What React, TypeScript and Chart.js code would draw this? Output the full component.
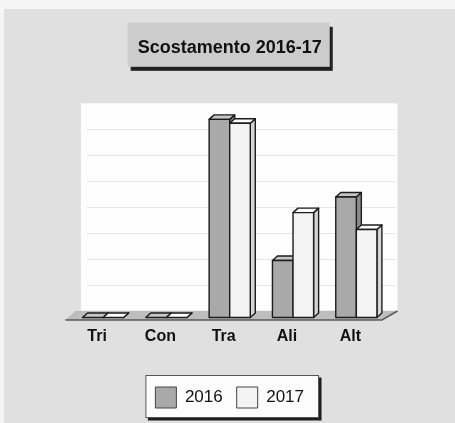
import React, { useEffect, useRef } from "react";
import { Chart, registerables } from "chart.js";

Chart.register(...registerables);

const categories = ["Tri", "Con", "Tra", "Ali", "Alt"];
const seriesLabels = ["2016", "2017"];
const values2016 = [0, 0, 7.65, 2.2, 4.65];
const values2017 = [0, 0, 7.5, 4.05, 3.4];
const yTicks = [0, 1, 2, 3, 4, 5, 6, 7, 8];
const titleText = "Scostamento 2016-17";

const FONT = "'Liberation Sans', Arial, sans-serif";
const WALL_DX = 9.5;
const WALL_DY = 7;
const BAR_DX = 5;
const BAR_DY = 4.5;

const faceColors = [
  { front: "#a9a9a9", top: "#c6c6c6", side: "#8c8c8c" },
  { front: "#f3f3f3", top: "#fbfbfb", side: "#d6d6d6" },
];

const framePlugin = {
  id: "frames",
  beforeDraw(chart: any) {
    const ctx = chart.ctx;
    ctx.save();
    ctx.fillStyle = "#f5f5f5";
    ctx.fillRect(0, 0, chart.width, chart.height);
    ctx.fillStyle = "#e0e0e0";
    ctx.fillRect(4, 9, chart.width - 4, chart.height - 9);

    // title frame
    const tb = chart.titleBlock;
    if (tb) {
      ctx.font = `bold 18px ${FONT}`;
      const w = ctx.measureText(titleText).width;
      const cx = (tb.left + tb.right) / 2;
      const cy = tb.top + 37 + 10.8;
      const l = cx - w / 2 - 10;
      const r = cx + w / 2 + 8;
      const t = cy - 25;
      const b = cy + 19;
      ctx.fillStyle = "#202020";
      ctx.fillRect(l + 3, t + 4, r - l, b - t);
      ctx.fillStyle = "#cccccc";
      ctx.fillRect(l, t, r - l, b - t);
    }

    // legend frame
    const lg = chart.legend;
    if (lg && lg.legendHitBoxes && lg.legendHitBoxes.length) {
      const hb = lg.legendHitBoxes;
      const first = hb[0];
      const last = hb[hb.length - 1];
      const l = first.left - 10;
      const r = last.left + last.width + 15;
      const t = first.top - 12;
      const b = first.top + 21 + 10;
      ctx.fillStyle = "#1e1e1e";
      ctx.fillRect(l + 2.5, t + 2.5, r - l, b - t);
      ctx.fillStyle = "#fcfcfc";
      ctx.fillRect(l, t, r - l, b - t);
      ctx.strokeStyle = "#555555";
      ctx.lineWidth = 1;
      ctx.strokeRect(l + 0.5, t + 0.5, r - l - 1, b - t - 1);
    }
    ctx.restore();
  },
  beforeDatasetsDraw(chart: any) {
    const ctx = chart.ctx;
    const area = chart.chartArea;
    const ys = chart.scales.y;
    const y0 = ys.getPixelForValue(0);
    const yTop = ys.getPixelForValue(yTicks[yTicks.length - 1]);
    ctx.save();
    // back wall
    ctx.fillStyle = "#fefefe";
    ctx.fillRect(area.left + WALL_DX, yTop - WALL_DY, area.right - area.left, y0 - yTop);
    ctx.strokeStyle = "#e6e6e6";
    ctx.lineWidth = 1;
    yTicks.slice(1, -1).forEach((v) => {
      const y = Math.round(ys.getPixelForValue(v) - WALL_DY) + 0.5;
      ctx.beginPath();
      ctx.moveTo(area.left + WALL_DX + 6, y);
      ctx.lineTo(area.right + WALL_DX - 2, y);
      ctx.stroke();
    });
    // floor
    ctx.beginPath();
    ctx.moveTo(area.left - 6, y0 + 2.5);
    ctx.lineTo(area.right - 6, y0 + 2.5);
    ctx.lineTo(area.right + WALL_DX, y0 - WALL_DY + 0.5);
    ctx.lineTo(area.left + 4, y0 - WALL_DY + 0.5);
    ctx.closePath();
    ctx.fillStyle = "#bdbdbd";
    ctx.fill();
    ctx.strokeStyle = "#5a5a5a";
    ctx.lineWidth = 1.5;
    ctx.beginPath();
    ctx.moveTo(area.left - 6, y0 + 2.5);
    ctx.lineTo(area.right - 6, y0 + 2.5);
    ctx.lineTo(area.right + WALL_DX, y0 - WALL_DY + 0.5);
    ctx.stroke();
    ctx.restore();
  },
  afterDatasetsDraw(chart: any) {
    const ctx = chart.ctx;
    const metas = chart.data.datasets.map((_: any, i: number) => chart.getDatasetMeta(i));
    ctx.save();
    ctx.strokeStyle = "#1c1c1c";
    ctx.lineWidth = 1.4;
    ctx.lineJoin = "round";
    for (let c = 0; c < categories.length; c++) {
      metas.forEach((meta: any, d: number) => {
        const el = meta.data[c];
        if (!el) return;
        const p = el.getProps(["x", "y", "base", "width"], true);
        const l = p.x - p.width / 2;
        const r = p.x + p.width / 2;
        const t = Math.min(p.y, p.base);
        const b = Math.max(p.y, p.base);
        const col = faceColors[d];
        // side
        ctx.beginPath();
        ctx.moveTo(r, b);
        ctx.lineTo(r + BAR_DX, b - BAR_DY);
        ctx.lineTo(r + BAR_DX, t - BAR_DY);
        ctx.lineTo(r, t);
        ctx.closePath();
        ctx.fillStyle = col.side;
        ctx.fill();
        ctx.stroke();
        // top
        ctx.beginPath();
        ctx.moveTo(l, t);
        ctx.lineTo(l + BAR_DX, t - BAR_DY);
        ctx.lineTo(r + BAR_DX, t - BAR_DY);
        ctx.lineTo(r, t);
        ctx.closePath();
        ctx.fillStyle = col.top;
        ctx.fill();
        ctx.stroke();
        // front
        if (b - t > 0.5) {
          ctx.fillStyle = col.front;
          ctx.fillRect(l, t, r - l, b - t);
          ctx.strokeRect(l, t, r - l, b - t);
        }
      });
    }
    ctx.restore();
  },
};

export default function App() {
  const ref = useRef<HTMLCanvasElement | null>(null);
  useEffect(() => {
    if (!ref.current) return;
    const chart = new Chart(ref.current, {
      type: "bar",
      data: {
        labels: categories,
        datasets: [
          {
            label: seriesLabels[0],
            data: values2016,
            backgroundColor: faceColors[0].front,
            borderColor: "#444444",
            borderWidth: 1,
          },
          {
            label: seriesLabels[1],
            data: values2017,
            backgroundColor: faceColors[1].front,
            borderColor: "#444444",
            borderWidth: 1,
          },
        ],
      },
      options: {
        animation: false,
        responsive: false,
        devicePixelRatio: 1,
        layout: { padding: { left: 71.4, right: 67, top: 0, bottom: 5 } },
        datasets: { bar: { barPercentage: 1, categoryPercentage: 0.65 } },
        scales: {
          x: {
            grid: { display: false, drawTicks: false },
            border: { display: false },
            ticks: {
              padding: 9,
              labelOffset: -6,
              color: "#111111",
              font: { family: FONT, size: 16, weight: "bold" },
            },
            afterFit(scale: any) {
              scale.height = 55.5;
            },
          },
          y: {
            display: false,
            min: yTicks[0],
            max: yTicks[yTicks.length - 1],
            ticks: { stepSize: 1 },
          },
        },
        plugins: {
          title: {
            display: true,
            text: titleText,
            color: "#111111",
            font: { family: FONT, size: 18, weight: "bold" },
            padding: { top: 37, bottom: 51.7 },
          },
          legend: {
            display: true,
            position: "bottom",
            labels: {
              boxWidth: 21,
              boxHeight: 21,
              padding: 14,
              color: "#111111",
              font: { family: FONT, size: 17 },
            },
          },
          tooltip: { enabled: false },
        },
      },
      plugins: [framePlugin],
    } as any);
    return () => chart.destroy();
  }, []);
  return (
    <div style={{ position: "absolute", left: 0, top: 0, width: 455, height: 423 }}>
      <canvas ref={ref} width={455} height={423} />
    </div>
  );
}
